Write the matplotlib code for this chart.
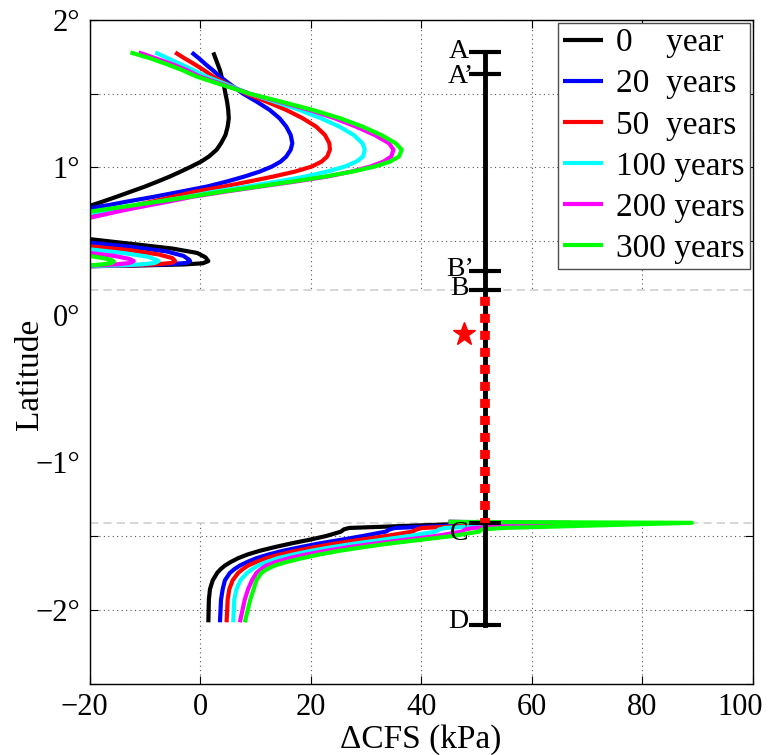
import numpy as np
import matplotlib.pyplot as plt
from matplotlib.transforms import ScaledTranslation

plt.rcParams['font.family'] = ['Liberation Serif', 'DejaVu Serif']

# legend text and line colours
labels = ['0    year', '20  years', '50  years', '100 years', '200 years', '300 years']
colors = ['black', 'blue', 'red', 'cyan', 'magenta', 'lime']

# upper branch, from A down to where it leaves the axes
lat_up = [1.78, 1.74, 1.70, 1.66, 1.616, 1.56, 1.5, 1.445, 1.39, 1.333, 1.277, 1.22, 1.164, 1.12,
          1.074, 1.04, 1.006, 0.972, 0.938, 0.904, 0.87, 0.835, 0.80, 0.77, 0.745, 0.72, 0.70, 0.65]
cfs_up_0 = [2.4, 2.8, 3.2, 3.6, 3.9, 4.3, 4.6, 4.9, 5.1, 5.2, 5.0, 4.6, 3.8, 3.0,
            1.6, 0.2, -1.6, -3.5, -5.5, -7.7, -10.0, -12.6, -15.2, -17.5, -19.5, -21.5, -23, -27]
cfs_up_20 = [-1.5, -0.2, 1.0, 2.3, 3.6, 5.6, 7.8, 10.3, 12.6, 14.4, 15.6, 16.4, 16.7, 16.4,
             15.6, 14.6, 13.0, 10.8, 8.0, 4.8, 1.2, -3.6, -8.5, -13.0, -16.5, -20.5, -23.5, -30]
cfs_up_50 = [-4.5, -2.8, -1.0, 0.7, 2.4, 5.2, 8.4, 12.1, 15.6, 18.6, 21.0, 22.6, 23.4, 23.5,
             23.0, 22.0, 20.2, 17.2, 13.2, 8.8, 4.2, -1.0, -5.0, -8.5, -11.5, -14.5, -17, -23]
cfs_up_100 = [-8.1, -5.8, -3.5, -1.2, 1.2, 5.0, 9.0, 13.6, 18.0, 21.9, 25.2, 27.8, 29.4, 29.8,
              29.5, 28.3, 26.2, 23.0, 19.0, 14.0, 8.4, 2.5, -2.4, -7.2, -11.2, -15.2, -18.4, -26]
cfs_up_200 = [-11.1, -8.0, -5.0, -2.4, 0.0, 4.4, 9.0, 14.4, 19.8, 24.4, 28.2, 31.6, 34.2, 35.0,
              34.6, 33.2, 30.8, 27.4, 23.0, 17.2, 10.8, 4.4, -1.5, -5.5, -9.0, -12.5, -15, -21]
cfs_up_300 = [-12.6, -9.0, -6.0, -3.2, -0.6, 4.0, 9.0, 14.8, 20.4, 25.4, 29.4, 32.8, 35.4, 36.5,
              36.0, 34.4, 31.6, 27.6, 22.6, 16.6, 10.4, 3.8, -2.0, -7.3, -11.8, -16.4, -20, -27]

# small lobe just above B'
lobe_lat_0 = [0.53, 0.514, 0.48, 0.45, 0.42, 0.39, 0.365, 0.35, 0.342, 0.336, 0.33, 0.328]
lobe_cfs_0 = [-24, -20, -12, -5, -0.5, 1.0, 1.5, 0.5, -3, -10, -20, -24]
lobe_lat_20 = [0.50, 0.49, 0.46, 0.43, 0.40, 0.375, 0.365, 0.352, 0.343, 0.336, 0.331, 0.329]
lobe_cfs_20 = [-24, -20, -12, -6, -3, -2, -1.8, -2.5, -6, -12, -20, -24]
lobe_lat_50 = [0.475, 0.465, 0.44, 0.41, 0.385, 0.365, 0.352, 0.343, 0.336, 0.332, 0.33]
lobe_cfs_50 = [-24, -20, -13, -7.5, -5, -4.5, -5.2, -8, -13, -20, -24]
lobe_lat_100 = [0.455, 0.445, 0.42, 0.395, 0.375, 0.365, 0.352, 0.343, 0.336, 0.332, 0.33]
lobe_cfs_100 = [-24, -20, -14, -9.5, -8, -7.5, -8.2, -10.5, -14, -20, -24]
lobe_lat_200 = [0.43, 0.42, 0.40, 0.38, 0.365, 0.352, 0.343, 0.334, 0.332]
lobe_cfs_200 = [-24, -20, -15.5, -12.8, -12, -12.8, -15, -20, -24]
lobe_lat_300 = [0.41, 0.40, 0.385, 0.372, 0.362, 0.352, 0.343, 0.335, 0.333]
lobe_cfs_300 = [-24, -20, -17.5, -16, -15.6, -16, -17.5, -20, -24]

# lower branch, from D up to C and the spike at C
lat_low = [-2.085, -1.93, -1.86, -1.80, -1.75, -1.725, -1.70, -1.675, -1.65, -1.625, -1.60,
           -1.575, -1.55, -1.525, -1.50, -1.47, -1.455, -1.445, -1.41, -1.404]
cfs_low_0 = [1.5, 1.6, 1.8, 2.3, 3.1, 3.7, 4.5, 5.6, 6.9, 8.6, 10.8,
             13.5, 16.5, 19.8, 22.8, 25.5, 26.0, 27.0, 53, 50]
cfs_low_20 = [3.6, 3.8, 4.1, 4.5, 5.4, 6.2, 7.2, 8.6, 10.2, 12.4, 15.0,
              18.2, 21.6, 25.6, 29.4, 33.6, 34.3, 35.3, 58, 45]
cfs_low_50 = [4.8, 5.0, 5.3, 5.9, 6.9, 7.7, 8.7, 10.2, 12.0, 14.5, 17.4,
              20.8, 24.6, 29.0, 33.6, 38.4, 39.2, 40.2, 61, 45]
cfs_low_100 = [6.0, 6.2, 6.6, 7.3, 8.5, 9.4, 10.5, 12.1, 14.1, 16.9, 20.1,
               23.9, 28.2, 33.0, 37.8, 42.6, 43.3, 44.3, 64, 45]
cfs_low_200 = [7.2, 8.1, 8.7, 9.4, 10.2, 11.0, 12.0, 13.8, 16.2, 19.2, 22.8,
               27.0, 31.8, 37.2, 42.6, 47.4, 48.0, 49.5, 67, 45]
cfs_low_300 = [8.1, 9.1, 9.7, 10.2, 11.1, 12.1, 13.5, 15.7, 18.5, 21.6, 25.2,
               29.6, 34.4, 40.0, 45.6, 50.5, 51.0, 55, 89, 45]

# profile markers along the fault trace
bar_cfs = 51.5
mark_names = ['A', 'A’', 'B’', 'B', 'C', 'D']
mark_lat = [1.78, 1.634, 0.30, 0.17, -1.41, -2.1]
star_cfs = 47.8
star_lat = -0.127

ups = [cfs_up_0, cfs_up_20, cfs_up_50, cfs_up_100, cfs_up_200, cfs_up_300]
lobe_lats = [lobe_lat_0, lobe_lat_20, lobe_lat_50, lobe_lat_100, lobe_lat_200, lobe_lat_300]
lobe_cfss = [lobe_cfs_0, lobe_cfs_20, lobe_cfs_50, lobe_cfs_100, lobe_cfs_200, lobe_cfs_300]
lows = [cfs_low_0, cfs_low_20, cfs_low_50, cfs_low_100, cfs_low_200, cfs_low_300]

fig = plt.figure(figsize=(7.69, 7.55), dpi=100)
ax = fig.add_axes([0.1164, 0.0947, 0.8624, 0.8788])

for i in range(6):
    x = np.concatenate([ups[i], [np.nan], lobe_cfss[i], [np.nan], lows[i]])
    y = np.concatenate([lat_up, [np.nan], lobe_lats[i], [np.nan], lat_low])
    ax.plot(x, y, color=colors[i], lw=3, label=labels[i], zorder=2,
            solid_joinstyle='round', solid_capstyle='butt')

# blank band between B and C
B_lat = mark_lat[3]
C_lat = mark_lat[4]
ax.axhspan(C_lat, B_lat, color='white', lw=0, zorder=1.6)
for yy in [B_lat, C_lat]:
    ax.axhline(yy, color='0.82', lw=1.2, ls=(0, (5, 3)), zorder=1.7)

# fault trace with markers
ax.plot([bar_cfs, bar_cfs], [mark_lat[-1], mark_lat[0]], color='black', lw=3.5, zorder=3)
ax.plot([bar_cfs, bar_cfs], [B_lat, C_lat], color='red', lw=7, ls=(1.05, (0.93, 0.82)), zorder=4)
offs = [0.005, -0.014, 0.006, 0.01, -0.07, 0.02]
for name, la, dy in zip(mark_names, mark_lat, offs):
    ax.plot([bar_cfs - 2.9, bar_cfs + 2.9], [la, la], color='black', lw=3, zorder=3,
            solid_capstyle='butt')
    xt = 49.6 if '’' in name else 48.6
    ax.text(xt, la + dy, name, ha='right', va='center', fontsize=20, zorder=5)
ax.plot(star_cfs, star_lat, marker='*', color='red', ms=17, mec='red', ls='none', zorder=5)

ax.set_xlim(-20, 100)
ax.set_ylim(-2.5, 2)
ax.set_xticks(np.arange(-20, 101, 20))
yt = np.arange(-2.5, 2.01, 0.5)
ax.set_yticks(yt)
ax.set_yticklabels(['' if abs(v - round(v)) > 0.01 else ('%d°' % round(v)).replace('-', '\u2212')
                    for v in yt])
ax.tick_params(direction='in', length=6, width=0.8, top=True, right=True, labelsize=22, pad=7)
ax.grid(True, ls=(0, (1, 3)), color='0.35', lw=0.8)
for sp in ax.spines.values():
    sp.set_linewidth(1.0)

# end labels sit a little inside, as in the original
xl = ax.get_xticklabels()
xl[0].set_transform(xl[0].get_transform() + ScaledTranslation(-0.05, 0, fig.dpi_scale_trans))
xl[-1].set_transform(xl[-1].get_transform() + ScaledTranslation(-0.13, 0, fig.dpi_scale_trans))

ax.set_xlabel('ΔCFS (kPa)', fontsize=24, va='center')
ax.set_ylabel('Latitude', fontsize=24, va='center')
ax.xaxis.set_label_coords(0.5, -0.085)
ax.yaxis.set_label_coords(-0.0897, 0.466)

leg = ax.legend(loc='upper right', bbox_to_anchor=(1, 1), borderaxespad=0.08, fontsize=24,
                fancybox=False, edgecolor='0.3', framealpha=1, handlelength=1.2,
                handletextpad=0.4, labelspacing=0.32, borderpad=0.15)
leg.get_frame().set_linewidth(1.0)
leg.set_zorder(10)

fig.savefig('out.png', dpi=100)
